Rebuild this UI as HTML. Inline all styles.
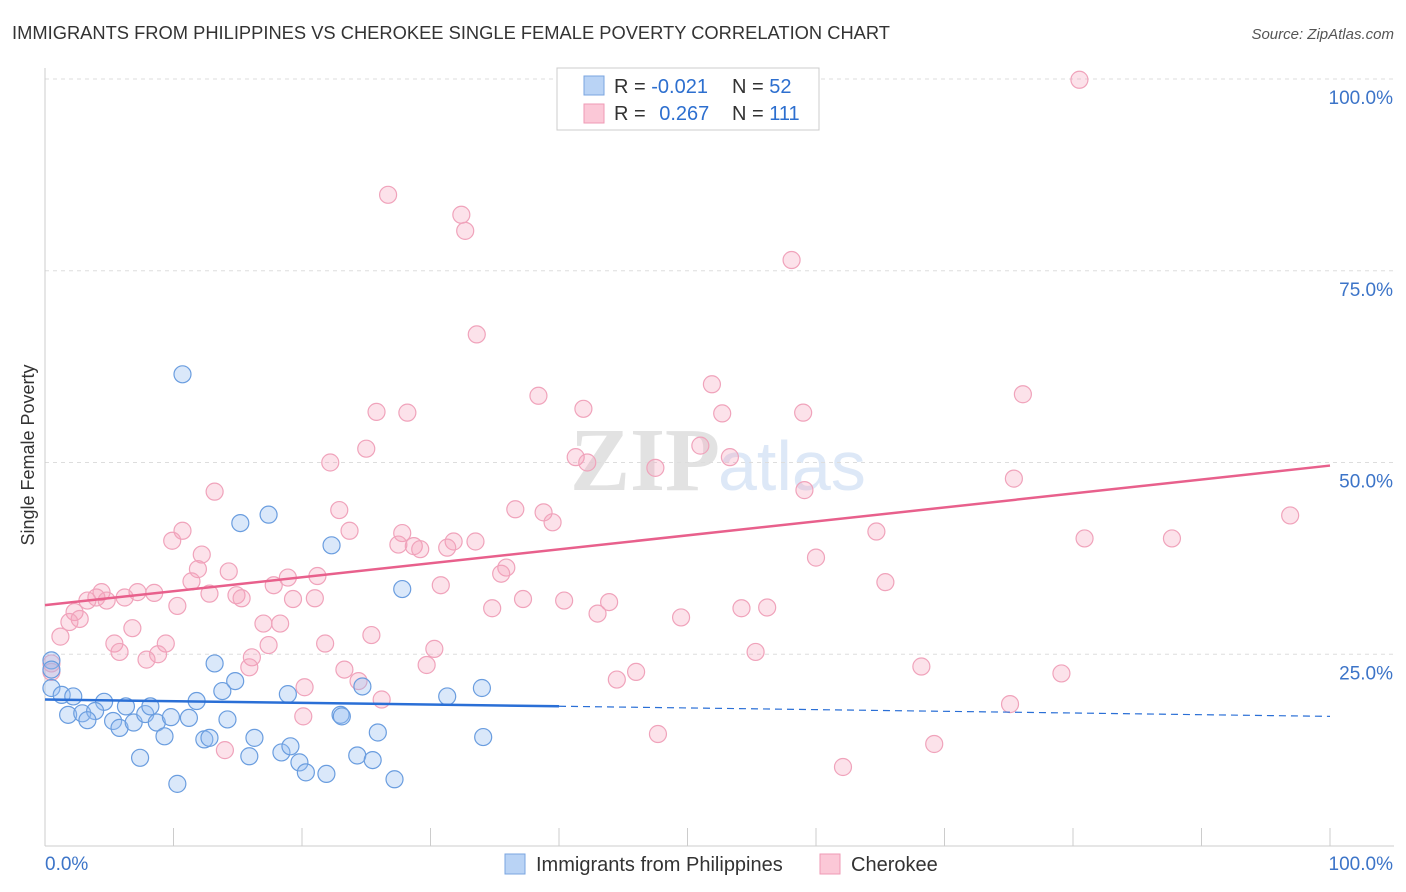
<!DOCTYPE html>
<html><head><meta charset="utf-8"><style>
body{margin:0;background:#fff;font-family:"Liberation Sans",sans-serif;}
#wrap{position:relative;width:1406px;height:892px;overflow:hidden;}
</style></head><body>
<div id="wrap">
<svg id="chart" width="1406" height="892" xmlns="http://www.w3.org/2000/svg">
<text x="12" y="39" font-size="18" fill="#333" textLength="878" lengthAdjust="spacingAndGlyphs">IMMIGRANTS FROM PHILIPPINES VS CHEROKEE SINGLE FEMALE POVERTY CORRELATION CHART</text>
<text x="1394" y="39" font-size="15" fill="#555" font-style="italic" text-anchor="end">Source: ZipAtlas.com</text>
<text x="34" y="455" font-size="18" fill="#333" transform="rotate(-90 34 455)" text-anchor="middle">Single Female Poverty</text>
<text x="720" y="490" font-size="90" fill="#e2e2e2" text-anchor="end" font-family="Liberation Serif,serif" font-weight="bold">ZIP</text>
<text x="718" y="490" font-size="70" fill="#dde8f7">atlas</text>
<g id="grid"></g><g id="axes"></g><g id="pts"></g><g id="lines"></g>
<g>
<rect x="557" y="68" width="262" height="62" fill="#fff" stroke="#ccc"/>
<rect x="584" y="76" width="20" height="19" fill="#b9d3f5" stroke="#7aa5e0"/>
<rect x="584" y="104" width="20" height="19" fill="#fbc8d7" stroke="#ef9ab4"/>
<text x="614" y="93" font-size="20" fill="#333">R = <tspan fill="#2d6fcf">-0.021</tspan></text>
<text x="732" y="93" font-size="20" fill="#333">N = <tspan fill="#2d6fcf">52</tspan></text>
<text x="614" y="120" font-size="20" fill="#333">R = <tspan fill="#2d6fcf" dx="8">0.267</tspan></text>
<text x="732" y="120" font-size="20" fill="#333">N = <tspan fill="#2d6fcf">111</tspan></text>
</g>
<g>
<rect x="505" y="854" width="20" height="20" fill="#b9d3f5" stroke="#7aa5e0"/>
<text x="536" y="871" font-size="20" fill="#333">Immigrants from Philippines</text>
<rect x="820" y="854" width="20" height="20" fill="#fbc8d7" stroke="#ef9ab4"/>
<text x="851" y="871" font-size="20" fill="#333">Cherokee</text>
</g>
</svg>
</div>
<script>
const yTicks=[25,50,75,100];
const yTickLabels=["25.0%","50.0%","75.0%","100.0%"];
const xTicks=[0,10,20,30,40,50,60,70,80,90,100];
const xEndLabels=["0.0%","100.0%"];
const philX=[10.7,15.2,17.4,22.3,27.8,13.2,14.8,24.7,31.3,34.0,0.5,0.5,1.3,2.2,4.6,1.8,2.9,3.9,3.3,5.3,5.8,6.3,6.9,7.8,8.2,8.7,9.3,9.8,11.2,11.8,13.8,14.2,12.4,12.8,16.3,15.9,18.4,19.1,18.9,19.8,20.3,21.9,23.0,23.1,24.3,25.5,25.9,27.2,10.3,7.4,34.1,0.5];
const philY=[61.5,42.1,43.2,39.2,33.5,23.8,21.5,20.8,19.5,20.6,24.2,20.6,19.7,19.5,18.8,17.1,17.3,17.6,16.4,16.3,15.4,18.2,16.1,17.2,18.2,16.1,14.3,16.8,16.7,18.9,20.2,16.5,13.9,14.1,14.1,11.7,12.2,13.0,19.8,10.9,9.6,9.4,17.1,16.9,11.8,11.2,14.8,8.7,8.1,11.5,14.2,23.0];
const cherX=[80.5,26.7,32.4,32.7,58.1,33.6,51.9,76.1,38.4,25.8,28.2,41.9,52.7,59.0,25.0,51.0,53.3,41.3,42.2,22.2,47.5,75.4,13.2,59.1,22.9,36.6,38.8,39.5,96.9,10.7,23.7,27.8,64.7,9.9,27.5,31.8,33.5,80.9,87.7,28.7,29.2,31.3,12.2,60.0,11.9,14.3,35.9,35.5,11.4,21.2,18.9,17.8,30.8,65.4,8.5,14.9,15.3,12.8,4.4,7.2,4.0,6.2,3.3,4.8,19.3,21.0,37.2,40.4,43.9,10.3,34.8,54.2,56.2,2.3,2.7,1.9,43.0,49.5,17.0,18.3,6.8,1.2,25.4,5.4,9.4,21.8,17.4,30.3,5.8,8.8,7.9,16.1,55.3,0.5,15.9,23.3,29.7,68.2,46.0,44.5,79.1,24.4,20.2,26.2,75.1,20.1,14.0,47.7,69.2,62.1,0.5];
const cherY=[99.9,84.9,82.3,80.2,76.4,66.7,60.2,58.9,58.7,56.6,56.5,57.0,56.4,56.5,51.8,52.2,50.7,50.7,50.0,50.0,49.3,47.9,46.2,46.4,43.8,43.9,43.5,42.2,43.1,41.1,41.1,40.8,41.0,39.8,39.3,39.7,39.7,40.1,40.1,39.1,38.7,38.9,38.0,37.6,36.1,35.8,36.3,35.5,34.5,35.2,35.0,34.0,34.0,34.4,33.0,32.7,32.3,32.9,33.1,33.1,32.4,32.4,32.0,32.0,32.2,32.3,32.2,32.0,31.8,31.3,31.0,31.0,31.1,30.5,29.6,29.2,30.3,29.8,29.0,29.0,28.4,27.3,27.5,26.4,26.4,26.4,26.2,25.7,25.3,25.0,24.3,24.6,25.3,23.8,23.3,23.0,23.6,23.4,22.7,21.7,22.5,21.5,20.7,19.1,18.5,16.9,12.5,14.6,13.3,10.3,22.7];
const philTrend=[19.1,16.9];
const cherTrend=[31.4,49.6];
const philSolidEnd=40;
const X0=45,X1=1330,Y0=846,Y100=79;
const sx=v=>X0+(X1-X0)*v/100;
const sy=v=>Y0-(Y0-Y100)*v/100;
const NS="http://www.w3.org/2000/svg";
function mk(tag,attrs,parent){const e=document.createElementNS(NS,tag);for(const k in attrs)e.setAttribute(k,attrs[k]);parent.appendChild(e);return e;}
const grid=document.getElementById('grid'),axes=document.getElementById('axes'),pts=document.getElementById('pts'),lines=document.getElementById('lines');
yTicks.forEach((t,i)=>{
 const l=mk('line',{x1:X0,x2:1394,y1:sy(t),y2:sy(t),stroke:'#ddd','stroke-dasharray':'4,4'},grid);
 
 
 const tx=mk('text',{x:1393,y:sy(t)+25,'font-size':19,fill:'#3c74c8','text-anchor':'end'},grid);
 tx.textContent=yTickLabels[i];
 
 
});
const ya=mk('line',{x1:X0,x2:X0,y1:68,y2:846,stroke:'#ccc'},axes);


const xa=mk('line',{x1:X0,x2:1394,y1:846,y2:846,stroke:'#ccc'},axes);


xTicks.forEach(t=>{
 const l=mk('line',{x1:sx(t),x2:sx(t),y1:828,y2:846,stroke:'#ccc'},axes);
 
 
});
const xl0=mk('text',{x:45,y:870,'font-size':19,fill:'#3c74c8'},axes);xl0.textContent=xEndLabels[0];


const xl1=mk('text',{x:1393,y:870,'font-size':19,fill:'#3c74c8','text-anchor':'end'},axes);xl1.textContent=xEndLabels[1];


cherX.forEach((x,i)=>{
 const c=mk('circle',{cx:sx(x),cy:sy(cherY[i]),r:8.5,fill:'rgba(246,160,186,0.3)',stroke:'#f0a3bb','stroke-width':1.2},pts);
 
 
});
philX.forEach((x,i)=>{
 const c=mk('circle',{cx:sx(x),cy:sy(philY[i]),r:8.5,fill:'rgba(150,190,240,0.35)',stroke:'#6a9ddf','stroke-width':1.2},pts);
 
 
});
const pv=x=>philTrend[0]+(philTrend[1]-philTrend[0])*x/100;
const l1=mk('line',{x1:sx(0),y1:sy(pv(0)),x2:sx(philSolidEnd),y2:sy(pv(philSolidEnd)),stroke:'#2a6fd6','stroke-width':2.5},lines);


const l2=mk('line',{x1:sx(philSolidEnd),y1:sy(pv(philSolidEnd)),x2:sx(100),y2:sy(pv(100)),stroke:'#2a6fd6','stroke-width':1.2,'stroke-dasharray':'7,5'},lines);


const l3=mk('line',{x1:sx(0),y1:sy(cherTrend[0]),x2:sx(100),y2:sy(cherTrend[1]),stroke:'#e8608c','stroke-width':2.5},lines);


</script>
</body></html>
